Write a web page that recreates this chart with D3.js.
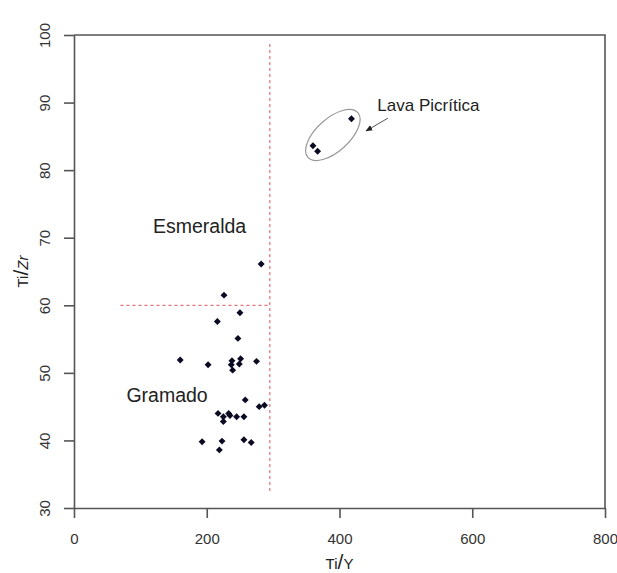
<!DOCTYPE html>
<html>
<head>
<meta charset="utf-8">
<script src="https://cdn.jsdelivr.net/npm/d3@7"></script>
<style>
  body { margin: 0; background: #fff; }
  text { font-family: "Liberation Sans", Arial, sans-serif; fill: #222; }
</style>
</head>
<body>
<script>
// Ti/Y vs Ti/Zr
const tiY = [282, 226, 250, 216, 247, 160, 202, 238, 251, 237, 249, 239, 275,
  258, 279, 287, 217, 225, 233, 235, 245, 256, 225, 193, 223, 256, 267, 219]
const tiZr = [66.1, 61.5, 58.9, 57.6, 55.1, 51.9, 51.2, 51.8, 52.1, 51.2, 51.3, 50.4, 51.7,
  46.0, 45.0, 45.2, 44.0, 43.5, 44.0, 43.7, 43.5, 43.5, 42.8, 39.8, 39.9, 40.1, 39.7, 38.6]

// picritic lavas
const picTiY = [418, 360, 367]
const picTiZr = [87.6, 83.6, 82.8]

const xTicks = [0, 200, 400, 600, 800]
const yTicks = [30, 40, 50, 60, 70, 80, 90, 100]

// divider lines (data units)
const vLineX = 295
const vLineY = [32.5, 98.8]
const hLineY = 60
const hLineX = [70, 295]

function main ({ w, h, margin }) {
  const svg = d3.select('body')
    .append('svg')
    .attr('width', w)
    .attr('height', h)

  const x = d3.scaleLinear().domain([0, 800]).range([margin.left, w - margin.right])
  const y = d3.scaleLinear().domain([30, 100]).range([h - margin.bottom, margin.top])

  const axisColor = '#555'

  // frame top/right
  svg.append('path')
    .attr('d', `M${x(0)},${y(100)}H${x(800)}V${y(30)}`)
    .attr('fill', 'none')
    .attr('stroke', axisColor)
    .attr('stroke-width', 1.6)

  const gx = svg.append('g')
    .attr('transform', `translate(0,${y(30)})`)
    .call(d3.axisBottom(x).tickValues(xTicks).tickSize(10).tickSizeOuter(0).tickPadding(15))
  gx.selectAll('text').attr('font-size', 15).style('fill', '#333')

  const gy = svg.append('g')
    .attr('transform', `translate(${x(0)},0)`)
    .call(d3.axisLeft(y).tickValues(yTicks).tickSize(10).tickSizeOuter(0))
  gy.selectAll('text')
    .attr('x', null).attr('dy', null)
    .attr('text-anchor', 'middle')
    .attr('transform', 'translate(-24,0) rotate(-90)')
    .attr('font-size', 15).style('fill', '#333')

  svg.selectAll('.domain, .tick line')
    .attr('stroke', axisColor)
    .attr('stroke-width', 1.6)

  // axis titles
  const xt = svg.append('text')
    .attr('x', x(400))
    .attr('y', h - 4)
    .attr('text-anchor', 'middle')
    .attr('font-size', 15)
  xt.append('tspan').text('Ti')
  xt.append('tspan').attr('font-size', 21).text('/')
  xt.append('tspan').text('Y')

  const yt = svg.append('text')
    .attr('transform', `translate(28,${y(65)}) rotate(-90)`)
    .attr('text-anchor', 'middle')
    .attr('font-size', 15)
  yt.append('tspan').text('Ti')
  yt.append('tspan').attr('font-size', 21).text('/')
  yt.append('tspan').attr('font-style', 'italic').text('Zr')

  // red dashed dividers
  svg.append('line')
    .attr('x1', x(vLineX)).attr('x2', x(vLineX))
    .attr('y1', y(vLineY[0])).attr('y2', y(vLineY[1]))
    .attr('stroke', '#e4707a').attr('stroke-width', 1.2)
    .attr('stroke-dasharray', '3,3')
  svg.append('line')
    .attr('x1', x(hLineX[0])).attr('x2', x(hLineX[1]))
    .attr('y1', y(hLineY)).attr('y2', y(hLineY))
    .attr('stroke', '#e4707a').attr('stroke-width', 1.2)
    .attr('stroke-dasharray', '3,3')

  // ellipse around picritic lavas
  svg.append('ellipse')
    .attr('transform', `translate(${x(390)},${y(85.2)}) rotate(-42)`)
    .attr('rx', 33.5).attr('ry', 16.5)
    .attr('fill', 'none')
    .attr('stroke', '#999')
    .attr('stroke-width', 1.2)

  // arrow
  svg.append('defs').append('marker')
    .attr('id', 'arrow')
    .attr('viewBox', '0 0 10 10')
    .attr('refX', 9).attr('refY', 5)
    .attr('markerWidth', 7).attr('markerHeight', 7)
    .attr('orient', 'auto')
    .append('path')
    .attr('d', 'M0,1L10,5L0,9Z')
    .attr('fill', '#222')
  svg.append('line')
    .attr('x1', x(473)).attr('y1', y(87.7))
    .attr('x2', x(440)).attr('y2', y(85.8))
    .attr('stroke', '#555').attr('stroke-width', 1)
    .attr('marker-end', 'url(#arrow)')

  // points
  const diamond = d3.symbol().type(d3.symbolSquare).size(24)
  const pts = tiY.map((v, i) => [v, tiZr[i]])
    .concat(picTiY.map((v, i) => [v, picTiZr[i]]))
  svg.append('g')
    .selectAll('path')
    .data(pts)
    .join('path')
    .attr('d', diamond)
    .attr('transform', d => `translate(${x(d[0])},${y(d[1])}) rotate(45)`)
    .attr('fill', '#0a0a22')

  // group labels
  svg.append('text')
    .attr('x', x(119)).attr('y', y(70.7))
    .attr('font-size', 19.5)
    .text('Esmeralda')
  svg.append('text')
    .attr('x', x(79)).attr('y', y(45.7))
    .attr('font-size', 19.5)
    .text('Gramado')
  svg.append('text')
    .attr('x', x(457)).attr('y', y(88.8))
    .attr('font-size', 17)
    .text('Lava Picrítica')
}

main({
  w: 617,
  h: 573,
  margin: { top: 35, right: 12, bottom: 65, left: 74 }
})
</script>
</body>
</html>
